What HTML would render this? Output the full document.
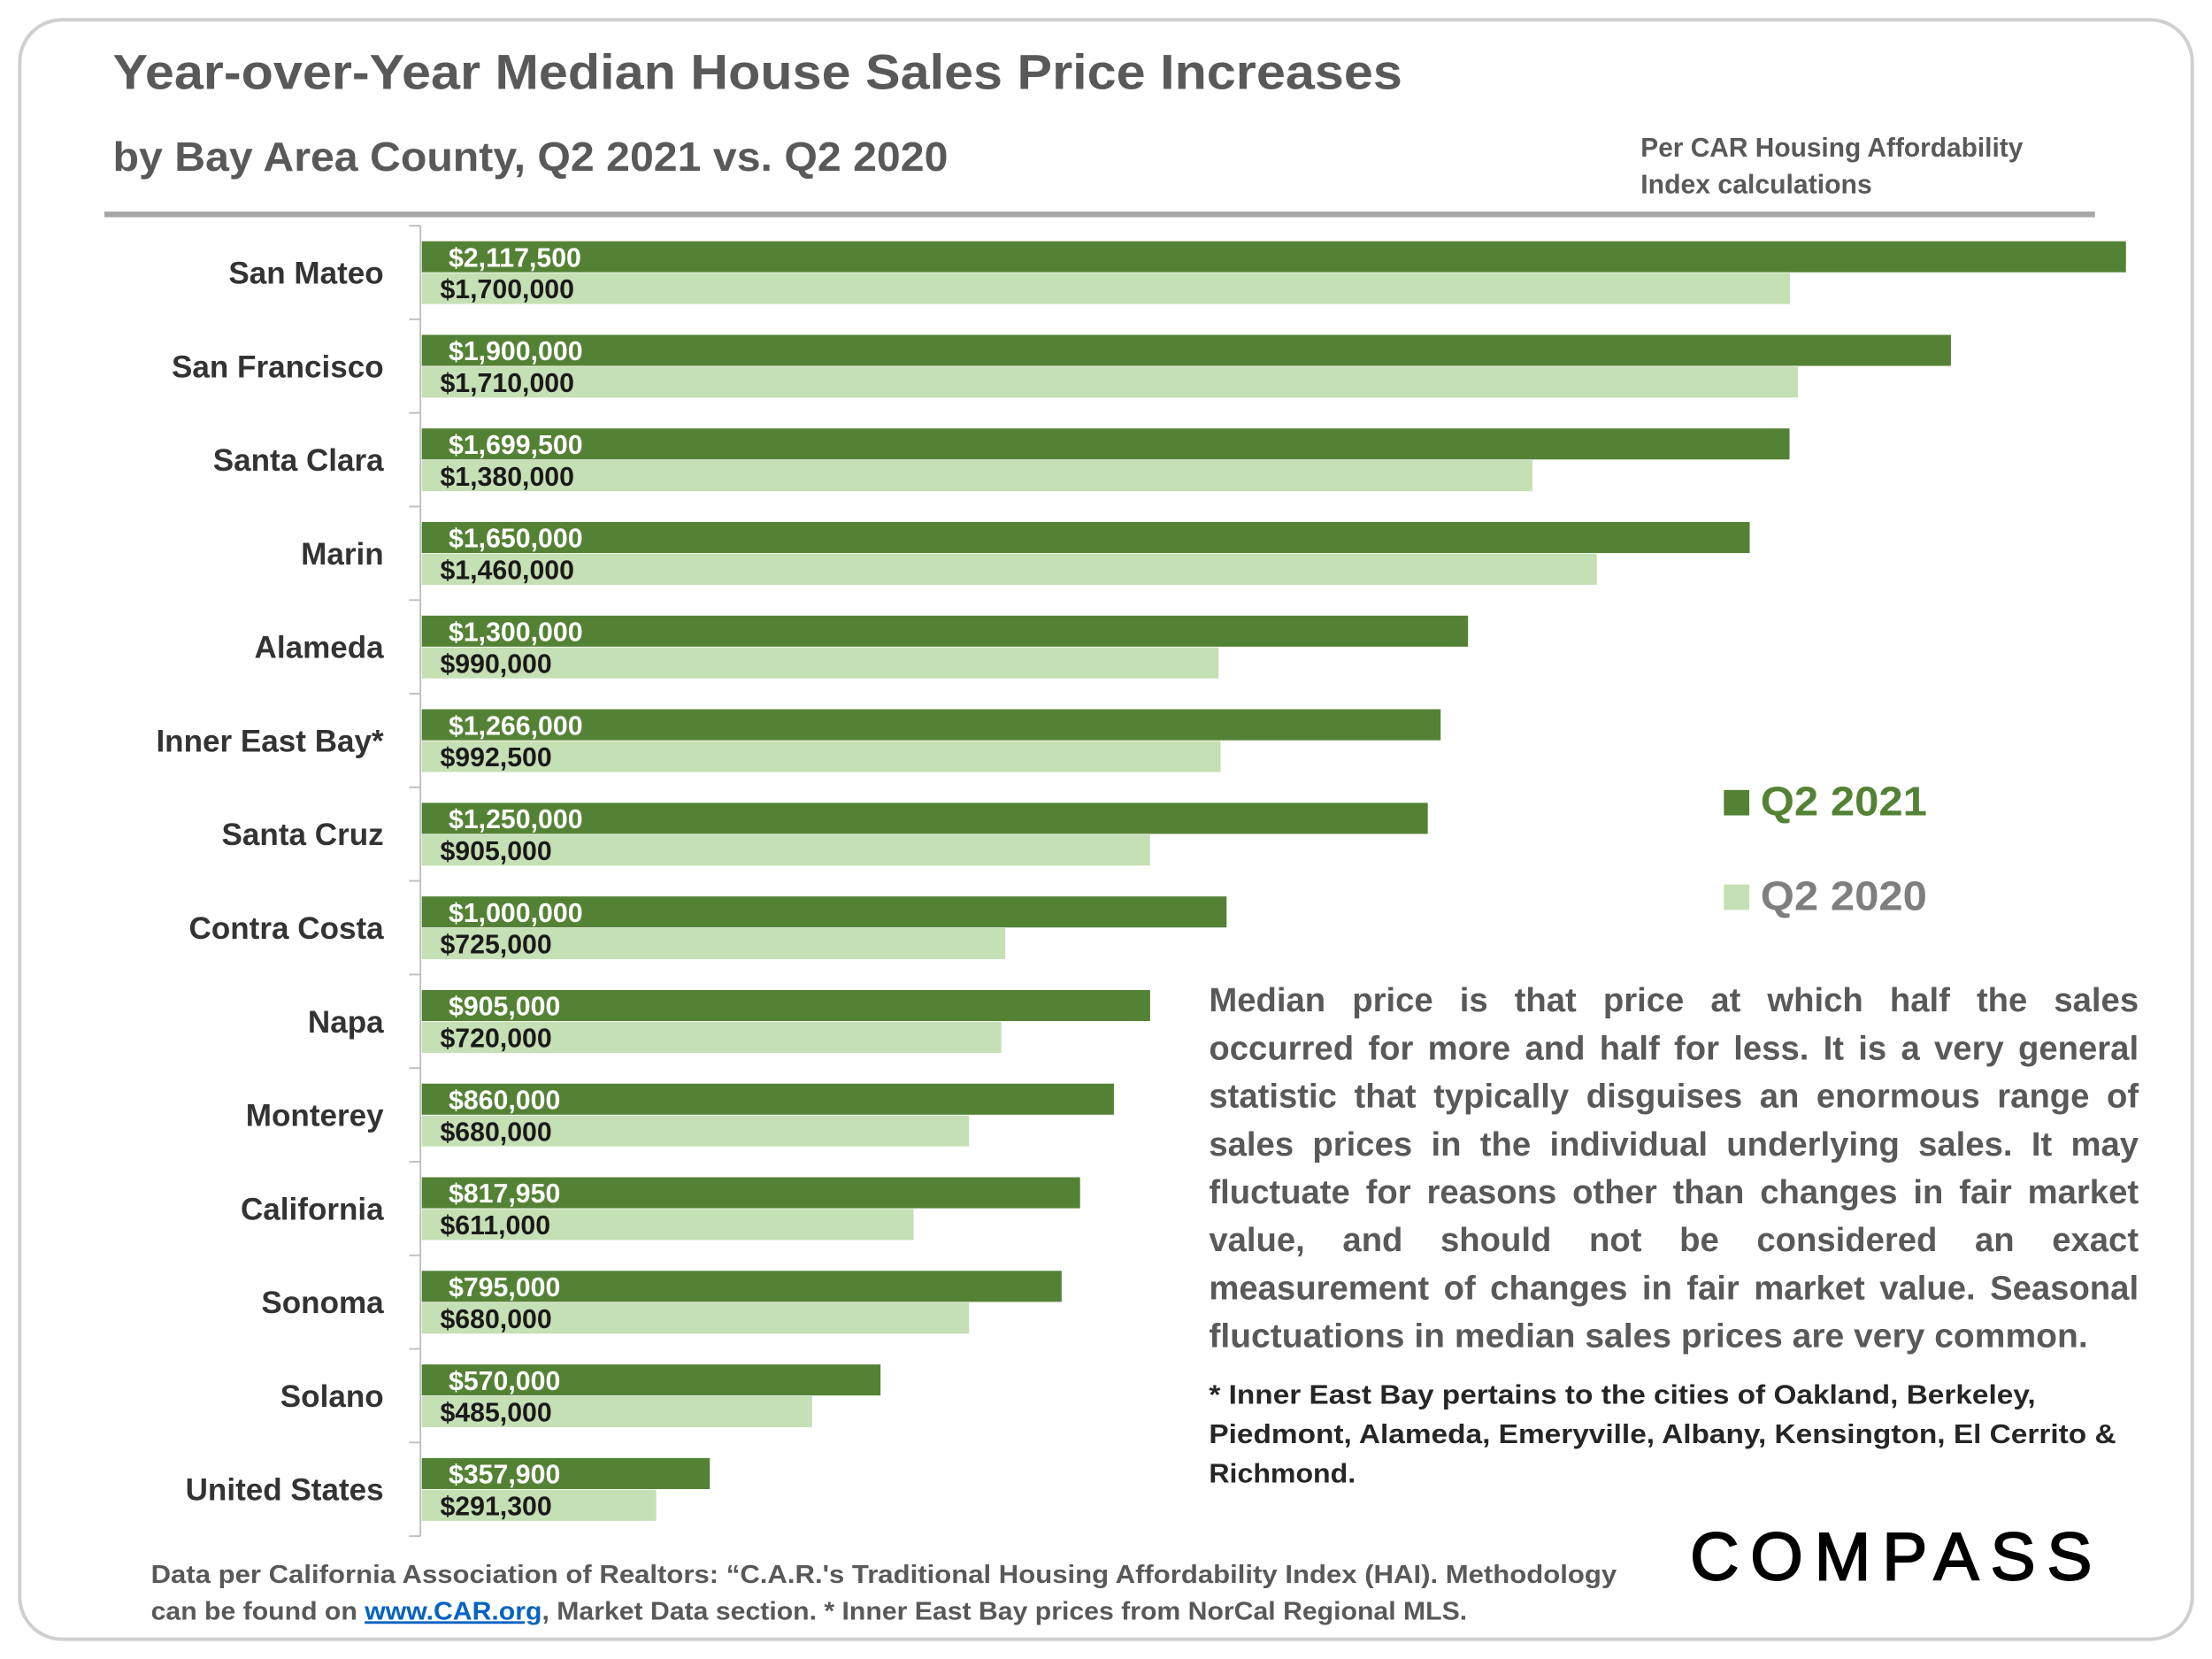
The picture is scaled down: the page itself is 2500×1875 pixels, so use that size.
<!DOCTYPE html>
<html><head><meta charset="utf-8"><style>
html,body{margin:0;padding:0;background:#fff;}
svg{display:block;}
text{font-family:"Liberation Sans",sans-serif;}
</style></head><body>
<svg id="chart" width="2500" height="1875" viewBox="0 0 1568 1176" xmlns="http://www.w3.org/2000/svg">
<rect x="14" y="14" width="1540" height="1148" rx="30" fill="#fff" stroke="#cfcfcf" stroke-width="2.5"/>
<text x="80" y="63" font-size="35" font-weight="bold" fill="#595959" textLength="914" lengthAdjust="spacingAndGlyphs">Year-over-Year Median House Sales Price Increases</text>
<text x="80" y="121" font-size="29" font-weight="bold" fill="#595959" textLength="592" lengthAdjust="spacingAndGlyphs">by Bay Area County, Q2 2021 vs. Q2 2020</text>
<text font-size="19" font-weight="bold" fill="#595959"><tspan x="1163" y="111" textLength="271" lengthAdjust="spacingAndGlyphs">Per CAR Housing Affordability</tspan><tspan x="1163" y="137" textLength="164" lengthAdjust="spacingAndGlyphs">Index calculations</tspan></text>
<line x1="74" y1="152" x2="1485" y2="152" stroke="#a6a6a6" stroke-width="4"/>
<g id="plot"></g>
<g>
<rect x="1222" y="560" width="18" height="18" fill="#548235"/>
<text x="1248" y="578" font-size="29" font-weight="bold" fill="#548235" textLength="118" lengthAdjust="spacingAndGlyphs">Q2 2021</text>
<rect x="1222" y="627" width="18" height="18" fill="#c5e0b4"/>
<text x="1248" y="645" font-size="29" font-weight="bold" fill="#7f7f7f" textLength="118" lengthAdjust="spacingAndGlyphs">Q2 2020</text>
</g>
<g id="para">
<text class="jl" x="857" y="717" font-size="24" font-weight="bold" fill="#595959">Median price is that price at which half the sales</text>
<text class="jl" x="857" y="751" font-size="24" font-weight="bold" fill="#595959">occurred for more and half for less. It is a very general</text>
<text class="jl" x="857" y="785" font-size="24" font-weight="bold" fill="#595959">statistic that typically disguises an enormous range of</text>
<text class="jl" x="857" y="819" font-size="24" font-weight="bold" fill="#595959">sales prices in the individual underlying sales. It may</text>
<text class="jl" x="857" y="853" font-size="24" font-weight="bold" fill="#595959">fluctuate for reasons other than changes in fair market</text>
<text class="jl" x="857" y="887" font-size="24" font-weight="bold" fill="#595959">value, and should not be considered an exact</text>
<text class="jl" x="857" y="921" font-size="24" font-weight="bold" fill="#595959">measurement of changes in fair market value. Seasonal</text>
<text x="857" y="955" font-size="24" font-weight="bold" fill="#595959" textLength="623" lengthAdjust="spacingAndGlyphs">fluctuations in median sales prices are very common.</text>
</g>
<text font-size="19" font-weight="bold" fill="#262626">
<tspan x="857" y="995" textLength="586" lengthAdjust="spacingAndGlyphs">* Inner East Bay pertains to the cities of Oakland, Berkeley,</tspan>
<tspan x="857" y="1023" textLength="643" lengthAdjust="spacingAndGlyphs">Piedmont, Alameda, Emeryville, Albany, Kensington, El Cerrito &amp;</tspan>
<tspan x="857" y="1051" textLength="104" lengthAdjust="spacingAndGlyphs">Richmond.</tspan>
</text>
<text font-size="18" font-weight="bold" fill="#595959">
<tspan x="107" y="1122" textLength="1039" lengthAdjust="spacingAndGlyphs">Data per California Association of Realtors: “C.A.R.'s Traditional Housing Affordability Index (HAI). Methodology</tspan>
</text>
<text x="107" y="1148" font-size="18" font-weight="bold" fill="#595959" textLength="933" lengthAdjust="spacingAndGlyphs">can be found on <tspan fill="#0563c1" text-decoration="underline">www.CAR.org</tspan>, Market Data section. * Inner East Bay prices from NorCal Regional MLS.</text>
<text x="1198" y="1120" font-size="48" fill="#000" stroke="#000" stroke-width="1.2" textLength="285" lengthAdjust="spacing">COMPASS</text>
</svg>
<script>
const categories = ["San Mateo","San Francisco","Santa Clara","Marin","Alameda","Inner East Bay*","Santa Cruz","Contra Costa","Napa","Monterey","California","Sonoma","Solano","United States"];
const q2021 = [2117500,1900000,1699500,1650000,1300000,1266000,1250000,1000000,905000,860000,817950,795000,570000,357900];
const q2020 = [1700000,1710000,1380000,1460000,990000,992500,905000,725000,720000,680000,611000,680000,485000,291300];

const NS = "http://www.w3.org/2000/svg";
const plot = document.getElementById("plot");
const x0 = 299, pxPer = 1208 / 2117500;
const top0 = 160, band = 66.35;
function xScale(v){ return x0 + v * pxPer; }
function yBand(i){ return top0 + i * band; }
function fmt(v){ return "$" + v.toLocaleString("en-US"); }
function mk(tag, attrs){ const e=document.createElementNS(NS,tag); for(const k in attrs) e.setAttribute(k,attrs[k]); return e; }

const axis = mk("line",{x1:298,y1:160,x2:298,y2:1089,stroke:"#bfbfbf","stroke-width":1.2});


plot.appendChild(axis);
for(let i=0;i<=categories.length;i++){
  const t = mk("line",{x1:290,y1:yBand(i),x2:298,y2:yBand(i),stroke:"#bfbfbf","stroke-width":1.2});
  
  
  plot.appendChild(t);
}
categories.forEach((c,i)=>{
  const top = yBand(i);
  const lab = mk("text",{x:272,y:top+41,"text-anchor":"end","font-size":22,"font-weight":"bold",fill:"#333"});
  lab.textContent = c;
  
  
  plot.appendChild(lab);

  const b1 = mk("rect",{x:x0,y:top+11,width:xScale(q2021[i])-x0,height:22,fill:"#548235"});
  
  
  plot.appendChild(b1);
  const b2 = mk("rect",{x:x0,y:top+33.5,width:xScale(q2020[i])-x0,height:22,fill:"#c5e0b4"});
  
  
  plot.appendChild(b2);

  const v1 = mk("text",{x:318,y:top+29,"font-size":19,"font-weight":"bold",fill:"#fff"});
  v1.textContent = fmt(q2021[i]);
  
  
  plot.appendChild(v1);
  const v2 = mk("text",{x:312,y:top+51.5,"font-size":19,"font-weight":"bold",fill:"#1a1a1a"});
  v2.textContent = fmt(q2020[i]);
  
  
  plot.appendChild(v2);
});

// justify paragraph lines by distributing word gaps
document.querySelectorAll("text.jl").forEach(t=>{
  const words = t.textContent.trim().split(/\s+/);
  const x = 857, W = 659;
  t.textContent = "";
  const spans = words.map(w=>{ const s=document.createElementNS(NS,"tspan"); s.textContent=w; t.appendChild(s); return s; });
  const widths = spans.map(s=>s.getComputedTextLength());
  const sum = widths.reduce((a,b)=>a+b,0);
  const gap = (W - sum) / (words.length - 1);
  let cx = x;
  spans.forEach((s,k)=>{ s.setAttribute("x", cx.toFixed(2)); cx += widths[k] + gap; });
});
</script>
</body></html>
